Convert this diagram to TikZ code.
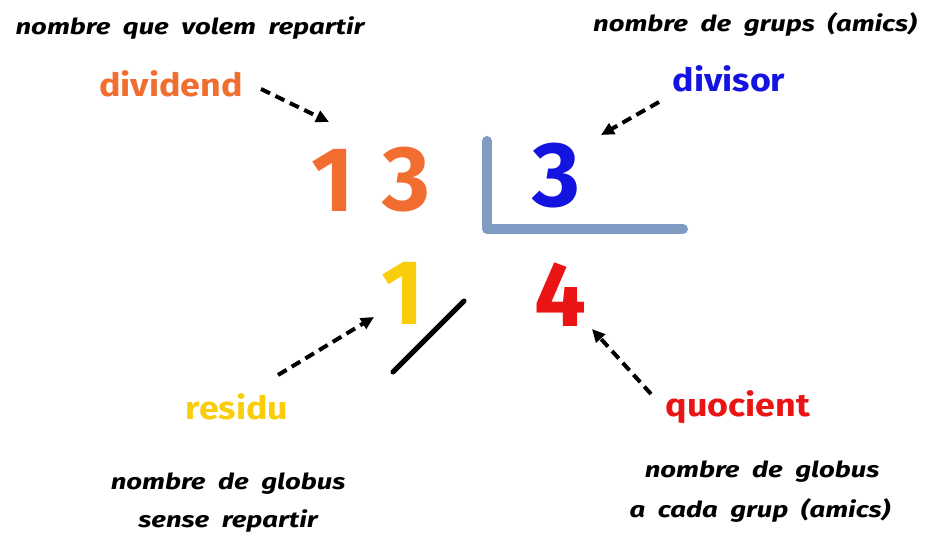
\documentclass[tikz,border=0pt]{standalone}
\usepackage{fontspec}
\setmainfont{Fira Sans}
\newfontfamily\descfont[FakeStretch=1.25, WordSpace=2]{Fira Sans}
\newfontfamily\labfont[FakeStretch=1.12]{Fira Sans}
\usetikzlibrary{arrows.meta}
\definecolor{cOrange}{RGB}{242,110,48}
\definecolor{cBlue}{RGB}{20,20,225}
\definecolor{cYellow}{RGB}{250,205,10}
\definecolor{cRed}{RGB}{235,20,20}
\definecolor{cBracket}{RGB}{125,155,195}
\tikzset{
  desc/.style={inner sep=0pt, anchor=base, font=\descfont\fontsize{22}{26}\selectfont\bfseries\itshape, text=black},
  lab/.style={inner sep=0pt, anchor=base, font=\labfont\fontsize{32}{36}\selectfont\bfseries},
  digit/.style={inner sep=0pt, anchor=south, font=\fontsize{92}{96}\selectfont\bfseries},
  darrow/.style={line width=4pt, dash pattern=on 10pt off 6pt, -{Triangle[length=13pt,width=12pt]}}
}
\begin{document}
\begin{tikzpicture}[x=1pt,y=-1pt]
\useasboundingbox (0,0) rectangle (928,534);
% descriptions
\node[desc] (d1) at (190,35) {nombre que volem repartir};
\node[desc] (d2) at (755,32) {nombre de grups (amics)};
\node[desc] (d3a) at (228,489) {nombre de globus};
\node[desc] (d3b) at (228,527) {sense repartir};
\node[desc] (d4a) at (762,477) {nombre de globus};
\node[desc] (d4b) at (760,517) {a cada grup (amics)};
% labels
\node[lab, text=cOrange] (ldiv) at (171,97) {dividend};
\node[lab, text=cBlue] (lvis) at (729,92) {divisor};
\node[lab, text=cYellow] (lres) at (237,419) {residu};
\node[lab, text=cRed] (lquo) at (738,416) {quocient};
% digits
\node[digit, text=cOrange] (n1) at (333,212) {1};
\node[digit, text=cOrange] (n3) at (406,212) {3};
\node[digit, text=cBlue] (m3) at (556,208) {3};
\node[digit, text=cYellow] (r1) at (403,325) {1};
\node[digit, text=cRed] (q4) at (560,327) {4};
% bracket
\coordinate (bt) at (487,141);
\coordinate (bc) at (487,229);
\coordinate (br) at (683,229);
\draw[cBracket, line width=10pt, line cap=round, line join=round] (bt) -- (bc) -- (br);
% slash
\coordinate (s1) at (393,372);
\coordinate (s2) at (464,301);
\draw[line width=5pt, line cap=round] (s1) -- (s2);
% arrows
\coordinate (a1s) at (261,89);
\coordinate (a1e) at (329,122);
\coordinate (a2s) at (659,102);
\coordinate (a2e) at (601,135);
\coordinate (a3s) at (278,375);
\coordinate (a3e) at (374,317);
\coordinate (a4s) at (651,394);
\coordinate (a4e) at (592,329);
\draw[darrow] (a1s) -- (a1e);
\draw[darrow] (a2s) -- (a2e);
\draw[darrow] (a3s) -- (a3e);
\draw[darrow] (a4s) -- (a4e);
\end{tikzpicture}
\end{document}
